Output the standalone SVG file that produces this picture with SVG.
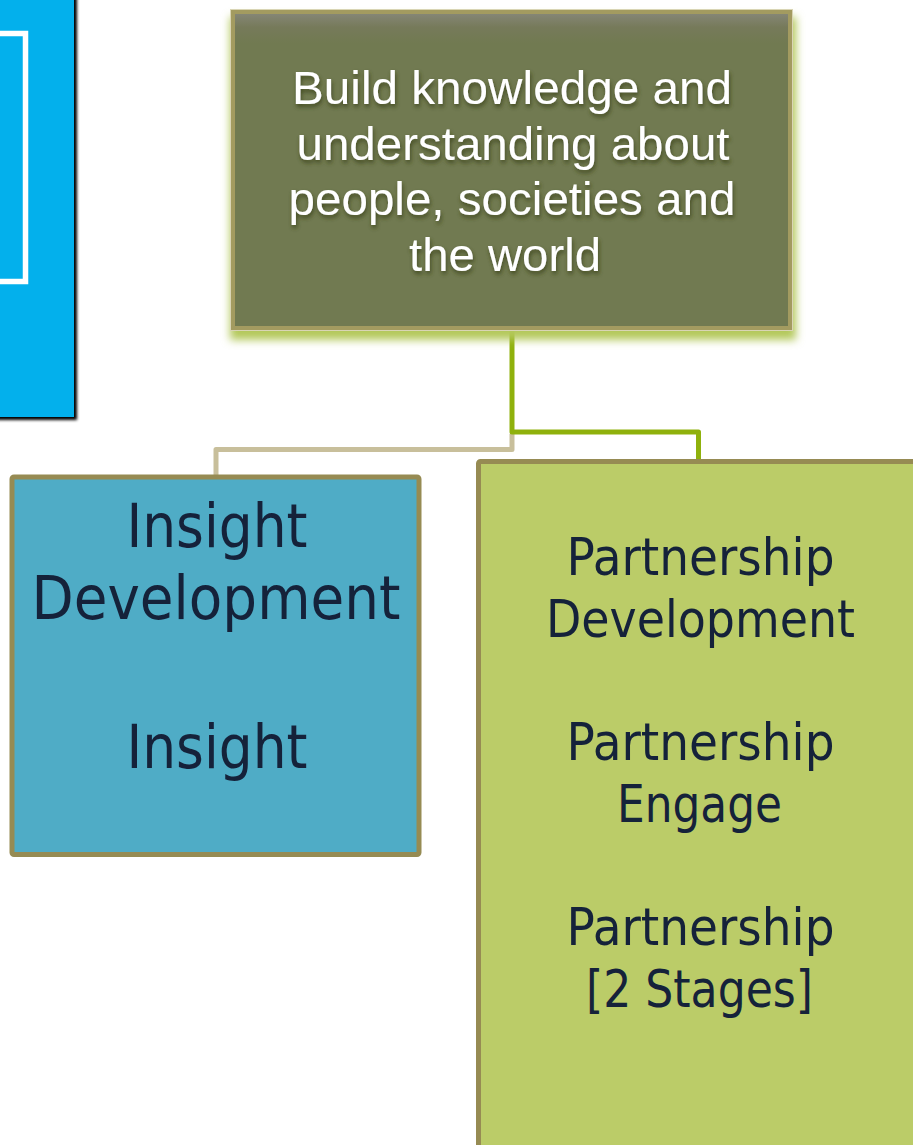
<svg xmlns="http://www.w3.org/2000/svg" width="913" height="1145" viewBox="0 0 913 1145">
  <defs>
    <filter id="blur-shadow" x="-20%" y="-20%" width="140%" height="140%">
      <feGaussianBlur stdDeviation="1.5"/>
    </filter>
    <filter id="glow" x="-10%" y="-10%" width="120%" height="130%">
      <feGaussianBlur stdDeviation="4"/>
    </filter>
    <filter id="text-shadow" x="-10%" y="-30%" width="120%" height="160%">
      <feGaussianBlur in="SourceAlpha" stdDeviation="2.2" result="b"/>
      <feOffset in="b" dx="1" dy="2.5" result="o"/>
      <feFlood flood-color="#3A4219" flood-opacity="0.85"/>
      <feComposite in2="o" operator="in" result="s"/>
      <feMerge>
        <feMergeNode in="s"/>
        <feMergeNode in="SourceGraphic"/>
      </feMerge>
    </filter>
    <linearGradient id="olive-fill" x1="0" y1="0" x2="0" y2="1">
      <stop offset="0" stop-color="#88887A"/>
      <stop offset="0.05" stop-color="#767A5A"/>
      <stop offset="0.1" stop-color="#717A51"/>
      <stop offset="1" stop-color="#717A51"/>
    </linearGradient>
  </defs>
  <style>
    .conn { fill: none; stroke-width: 5; stroke-linejoin: round; stroke-linecap: butt; }
    .box { stroke: #968B53; stroke-width: 5; }
    .top-text { font-family: "Liberation Sans", Arial, sans-serif; font-size: 46px; fill: #FFFFFF; text-anchor: middle; }
    .node-text { font-family: "DejaVu Sans", Verdana, sans-serif; fill: #15223A; text-anchor: middle; }
  </style>

  <rect width="913" height="1145" fill="#FFFFFF"/>

  <!-- Partially visible blue box at top-left -->
  <g id="node-blue">
    <rect x="-7" y="-7" width="84" height="427" fill="#000000" filter="url(#blur-shadow)"/>
    <rect x="-10" y="-10" width="84" height="427" fill="#03B0EC"/>
    <rect x="-20" y="33.5" width="45.5" height="248" fill="none" stroke="#FFFFFF" stroke-width="5.5"/>
  </g>

  <!-- Connectors -->
  <g id="connectors">
    <path class="conn" stroke="#C8BF9B" d="M 512 434 V 449.5 H 216 V 477"/>
    <path class="conn" stroke="#8FB10C" d="M 512 331 V 432 H 698.5 V 461"/>
  </g>

  <!-- Top olive node -->
  <g id="node-build">
    <rect x="230" y="17" width="566" height="323" fill="#B3C85A" filter="url(#glow)"/>
    <rect x="232.5" y="11.5" width="558" height="317" fill="url(#olive-fill)" stroke="#A39B60" stroke-width="5"/>
    <rect x="230.5" y="9.5" width="562" height="321" fill="none" stroke="#D9D5B5" stroke-width="1"/>
    <g class="top-text" filter="url(#text-shadow)">
      <text x="512" y="104" textLength="440" lengthAdjust="spacingAndGlyphs">Build knowledge and</text>
      <text x="513" y="159.5" textLength="433" lengthAdjust="spacingAndGlyphs">understanding about</text>
      <text x="512" y="215" textLength="447" lengthAdjust="spacingAndGlyphs">people, societies and</text>
      <text x="505" y="270.5" textLength="192" lengthAdjust="spacingAndGlyphs">the world</text>
    </g>
  </g>

  <!-- Insight node -->
  <g id="node-insight">
    <rect class="box" x="12" y="477" width="407" height="377.5" rx="2" fill="#4FACC6"/>
    <text class="node-text" font-size="60" x="217" y="547" textLength="181" lengthAdjust="spacingAndGlyphs">Insight</text>
    <text class="node-text" font-size="60" x="216" y="619" textLength="369" lengthAdjust="spacingAndGlyphs">Development</text>
    <text class="node-text" font-size="60" x="217" y="768" textLength="181" lengthAdjust="spacingAndGlyphs">Insight</text>
  </g>

  <!-- Partnership node -->
  <g id="node-partnership">
    <rect class="box" x="478.5" y="461.5" width="460" height="700" rx="2" fill="#BBCC68"/>
    <text class="node-text" font-size="52" x="700.5" y="575" textLength="268" lengthAdjust="spacingAndGlyphs">Partnership</text>
    <text class="node-text" font-size="52" x="700.5" y="636.7" textLength="309" lengthAdjust="spacingAndGlyphs">Development</text>
    <text class="node-text" font-size="52" x="700.5" y="760" textLength="268" lengthAdjust="spacingAndGlyphs">Partnership</text>
    <text class="node-text" font-size="52" x="699.5" y="821.8" textLength="165" lengthAdjust="spacingAndGlyphs">Engage</text>
    <text class="node-text" font-size="52" x="700.5" y="945.2" textLength="268" lengthAdjust="spacingAndGlyphs">Partnership</text>
    <text class="node-text" font-size="52" x="699.5" y="1007" textLength="227" lengthAdjust="spacingAndGlyphs">[2 Stages]</text>
  </g>
</svg>
